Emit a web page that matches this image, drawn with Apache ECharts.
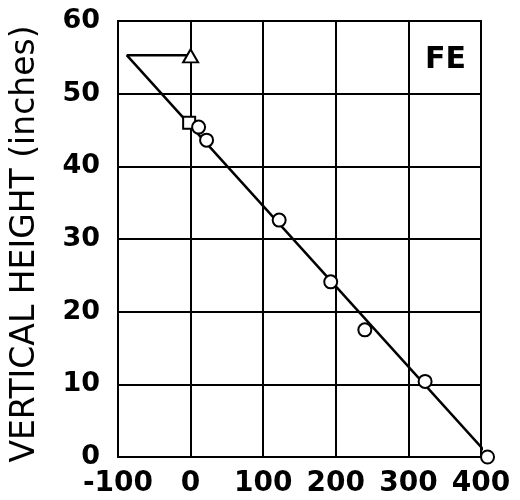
<!DOCTYPE html>
<html>
<head>
<meta charset="utf-8">
<script src="https://cdn.jsdelivr.net/npm/echarts@6/dist/echarts.min.js"></script>
<style>
  html, body { margin: 0; padding: 0; background: #fff; }
  #chart { width: 520px; height: 500px; }
</style>
</head>
<body>
<div id="chart"></div>
<script>
// Axis ranges and ticks
const xTicks = [-100, 0, 100, 200, 300, 400];
const yTicks = [0, 10, 20, 30, 40, 50, 60];

// Measured points (open circles)
const circleX = [11, 22, 122, 193, 240, 323, 409];
const circleY = [45.4, 43.6, 32.6, 24.1, 17.5, 10.4, 0];

// Open square and open triangle
const squareX = [-2];
const squareY = [46];
const triangleX = [0];
const triangleY = [55.2];

// Fitted straight line and the horizontal lead to the triangle
const fitX = [-88, 409];
const fitY = [55.3, 0.4];
const leadX = [-88, 0];
const leadY = [55.3, 55.3];

const panelLabel = 'FE';
const yTitle = 'VERTICAL HEIGHT (inches)';

const zip = (xs, ys) => xs.map((x, i) => [x, ys[i]]);

const openMarker = {
  color: '#fff',
  borderColor: '#000',
  borderWidth: 2,
  opacity: 1
};

const chart = echarts.init(document.getElementById('chart'), null, { renderer: 'canvas' });

chart.setOption({
  animation: false,
  backgroundColor: '#fff',
  title: {
    text: panelLabel,
    left: 420,
    top: 40,
    textStyle: { fontFamily: 'DejaVu Sans', fontSize: 30, fontWeight: 'bold', color: '#000' }
  },
  grid: {
    left: 118, right: 39, top: 21, bottom: 43,
    show: true, borderColor: '#000', borderWidth: 2
  },
  xAxis: {
    type: 'value',
    min: xTicks[0],
    max: xTicks[xTicks.length - 1],
    interval: 100,
    axisLine: { show: true, onZero: false, lineStyle: { color: '#000', width: 2 } },
    axisTick: { show: false },
    splitLine: { show: true, lineStyle: { color: '#000', width: 2 } },
    axisLabel: {
      margin: 13,
      color: '#000',
      fontFamily: 'DejaVu Sans',
      fontWeight: 'bold',
      fontSize: 28
    }
  },
  yAxis: {
    type: 'value',
    min: yTicks[0],
    max: yTicks[yTicks.length - 1],
    interval: 10,
    name: yTitle,
    nameLocation: 'middle',
    nameRotate: 90,
    nameGap: 76,
    nameTextStyle: {
      color: '#000',
      fontFamily: 'DejaVu Sans',
      fontSize: 33,
      fontWeight: 'normal',
      padding: [0, 10, 0, 0]
    },
    axisLine: { show: true, onZero: false, lineStyle: { color: '#000', width: 2 } },
    axisTick: { show: false },
    splitLine: { show: true, lineStyle: { color: '#000', width: 2 } },
    axisLabel: {
      margin: 18,
      color: '#000',
      fontFamily: 'DejaVu Sans',
      fontWeight: 'bold',
      fontSize: 27
    }
  },
  series: [
    {
      type: 'line',
      data: zip(fitX, fitY),
      showSymbol: false,
      symbol: 'none',
      lineStyle: { color: '#000', width: 2.5 },
      z: 3
    },
    {
      type: 'line',
      data: zip(leadX, leadY),
      showSymbol: false,
      symbol: 'none',
      lineStyle: { color: '#000', width: 2.5 },
      z: 3
    },
    {
      type: 'scatter',
      data: zip(circleX, circleY),
      symbol: 'circle',
      symbolSize: 13,
      itemStyle: openMarker,
      clip: false,
      z: 5
    },
    {
      type: 'scatter',
      data: zip(squareX, squareY),
      symbol: 'rect',
      symbolSize: 12,
      itemStyle: openMarker,
      clip: false,
      z: 4
    },
    {
      type: 'scatter',
      data: zip(triangleX, triangleY),
      symbol: 'triangle',
      symbolSize: [15, 13],
      itemStyle: openMarker,
      clip: false,
      z: 5
    }
  ]
});
</script>
</body>
</html>
